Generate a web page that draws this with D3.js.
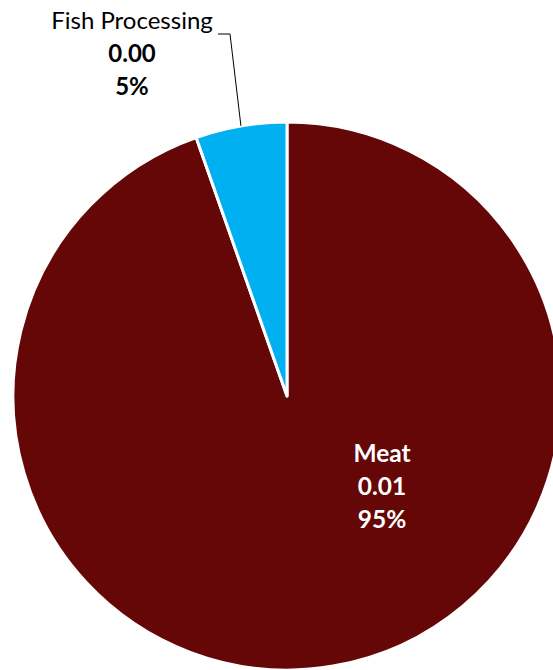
<!DOCTYPE html>
<html>
<head>
<meta charset="utf-8">
<script src="https://cdn.jsdelivr.net/npm/d3@7"></script>
<style>
  body { margin: 0; background: #fff; }
  svg { display: block; font-family: Lato, "Open Sans", sans-serif; }
</style>
</head>
<body>
<div id="chart"></div>
<script>
// data
var categories = ["Meat", "Fish Processing"];
var values = [0.0095, 0.00054];
var valueLabels = ["0.01", "0.00"];
var pctLabels = ["95%", "5%"];
var colors = ["#650707", "#00B0F0"];

var width = 553, height = 670;
var cx = 287, cy = 396, radius = 274;

var svg = d3.select("#chart").append("svg")
    .attr("width", width)
    .attr("height", height);

var pie = d3.pie().sort(null).value(function(d){ return d; });
var arc = d3.arc().innerRadius(0).outerRadius(radius);
var arcs = pie(values);

var g = svg.append("g").attr("transform", "translate(" + cx + "," + cy + ")");

g.selectAll(".slice")
    .data(arcs)
    .enter()
    .append("path")
    .attr("class", "slice")
    .attr("d", arc)
    .attr("fill", function(d, i){ return colors[i]; })
    .attr("stroke", "white")
    .attr("stroke-width", 3)
    .attr("stroke-linejoin", "round");

// Meat label inside the slice
var meatText = svg.append("text")
    .attr("text-anchor", "middle")
    .attr("fill", "white")
    .style("font-size", "24.5px")
    .style("font-weight", "bold");
[categories[0], valueLabels[0], pctLabels[0]].forEach(function(t, i){
    meatText.append("tspan").attr("x", 382).attr("y", 462 + i * 33).text(t);
});

// Fish Processing label outside with leader line
var fishText = svg.append("text")
    .attr("text-anchor", "middle")
    .attr("fill", "#000")
    .style("font-size", "24px");
fishText.append("tspan").attr("x", 132).attr("y", 29).text(categories[1]);
fishText.append("tspan").attr("x", 132).attr("y", 62).style("font-weight", "bold").text(valueLabels[1]);
fishText.append("tspan").attr("x", 132).attr("y", 95).style("font-weight", "bold").text(pctLabels[1]);

// leader line from slice edge
var fishMid = (arcs[1].startAngle + arcs[1].endAngle) / 2;
var ex = cx + Math.sin(fishMid) * radius;
var ey = cy - Math.cos(fishMid) * radius;
svg.append("path")
    .attr("d", "M" + ex + "," + ey + "L230,34L218,34")
    .attr("fill", "none")
    .attr("stroke", "#000")
    .attr("stroke-width", 1);
</script>
</body>
</html>
